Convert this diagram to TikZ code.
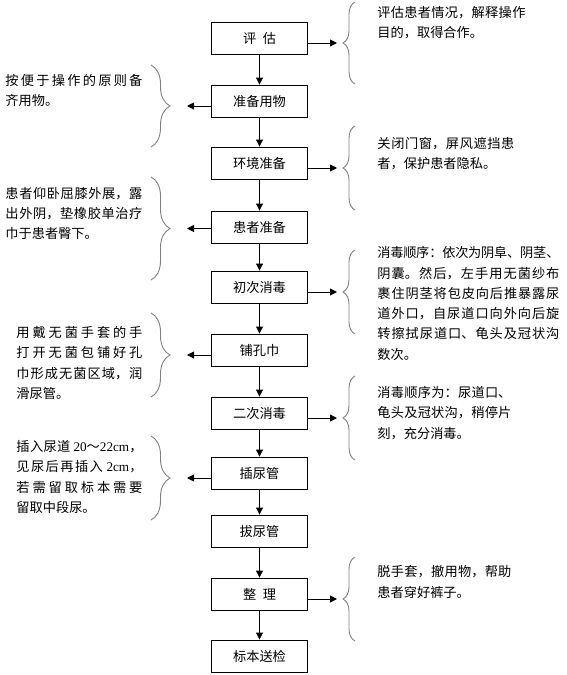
\documentclass[tikz,border=0pt]{standalone}
\usepackage{fontspec}
\setmainfont{Noto Sans CJK SC}
\newfontfamily\latfont{Liberation Serif}
\usetikzlibrary{arrows.meta,decorations.pathreplacing}
\XeTeXlinebreaklocale "zh"
\XeTeXlinebreakskip=0pt plus 3pt minus 0.5pt
\XeTeXlinebreakpenalty=10000
\tikzset{
  stepbox/.style={draw, minimum width=96pt, minimum height=32pt, inner sep=0pt},
  note/.style={anchor=west, inner sep=0pt, align=justify, text width=#1},
  curly/.style={draw=gray, decorate, decoration={brace, amplitude=#1}},
}
\begin{document}
\begin{tikzpicture}[x=1pt, y=-1pt, line width=0.9pt, font=\fontsize{13.2}{20.3}\selectfont, >={Triangle[length=7pt,width=7pt]}]
\useasboundingbox (0,0) rectangle (566,675);
% main steps
\node[stepbox] (b1) at (259.5,38) {评\enspace 估};
\node[stepbox] (b2) at (259.5,101) {准备用物};
\node[stepbox] (b3) at (259.5,163) {环境准备};
\node[stepbox] (b4) at (259.5,227) {患者准备};
\node[stepbox] (b5) at (259.5,287) {初次消毒};
\node[stepbox] (b6) at (259.5,350) {铺孔巾};
\node[stepbox] (b7) at (259.5,413) {二次消毒};
\node[stepbox] (b8) at (259.5,473) {插尿管};
\node[stepbox] (b9) at (259.5,531) {拔尿管};
\node[stepbox] (b10) at (259.5,594) {整\enspace 理};
\node[stepbox] (b11) at (259.5,656) {标本送检};
\foreach \i [remember=\i as \last (initially 1)] in {2,...,11}
  \draw[->] (b\last) -- (b\i);
% braces on the right
\foreach \n/\top/\bot in {1/2/84, 3/126/210, 5/250/334, 7/376/460, 10/557/641} {
  \draw[curly=12pt] (355,\bot) -- (355,\top);
  \coordinate (t\n) at (343,{(\top+\bot)/2});
  \draw[->, shorten >=6pt] (b\n.east |- t\n) -- (t\n);
}
% braces on the left
\foreach \n/\top/\bot in {2/65/147, 4/177/280, 6/313/397, 8/436/520} {
  \draw[curly=19pt] (151,\top) -- (151,\bot);
  \coordinate (t\n) at (170,{(\top+\bot)/2});
  \draw[->, shorten >=17pt] (b\n.west |- t\n) -- (t\n);
}
% notes
\node[note=148pt] (n1) at (377,23) {评估患者情况，解释操作\linebreak 目的，取得合作。};
\node[note=137pt] (n2) at (5,90.5) {按便于操作的原则备\linebreak 齐用物。};
\node[note=137pt] (n3) at (377,153.5) {关闭门窗，屏风遮挡患\linebreak 者，保护患者隐私。};
\node[note=137pt] (n4) at (5,213.5) {患者仰卧屈膝外展，露\linebreak 出外阴，垫橡胶单治疗\linebreak 巾于患者臀下。};
\node[note=182pt] (n5) at (377,303.5) {消毒顺序：依次为阴阜、阴茎、\linebreak 阴囊。然后，左手用无菌纱布\linebreak 裹住阴茎将包皮向后推暴露尿\linebreak 道外口，自尿道口向外向后旋\linebreak 转擦拭尿道口、龟头及冠状沟\linebreak 数次。};
\node[note=126pt] (n6) at (16,363) {用戴无菌手套的手\linebreak 打开无菌包铺好孔\linebreak 巾形成无菌区域，润\linebreak 滑尿管。};
\node[note=134pt] (n7) at (377,413) {消毒顺序为：尿道口、\linebreak 龟头及冠状沟，稍停片\linebreak 刻，充分消毒。};
\node[note=126pt] (n8) at (16,477) {插入尿道~{\latfont 20}～{\latfont 22cm}，\linebreak 见尿后再插入~{\latfont 2cm}，\linebreak 若需留取标本需要\linebreak 留取中段尿。};
\node[note=134pt] (n10) at (377,582) {脱手套，撤用物，帮助\linebreak 患者穿好裤子。};
\end{tikzpicture}
\end{document}
